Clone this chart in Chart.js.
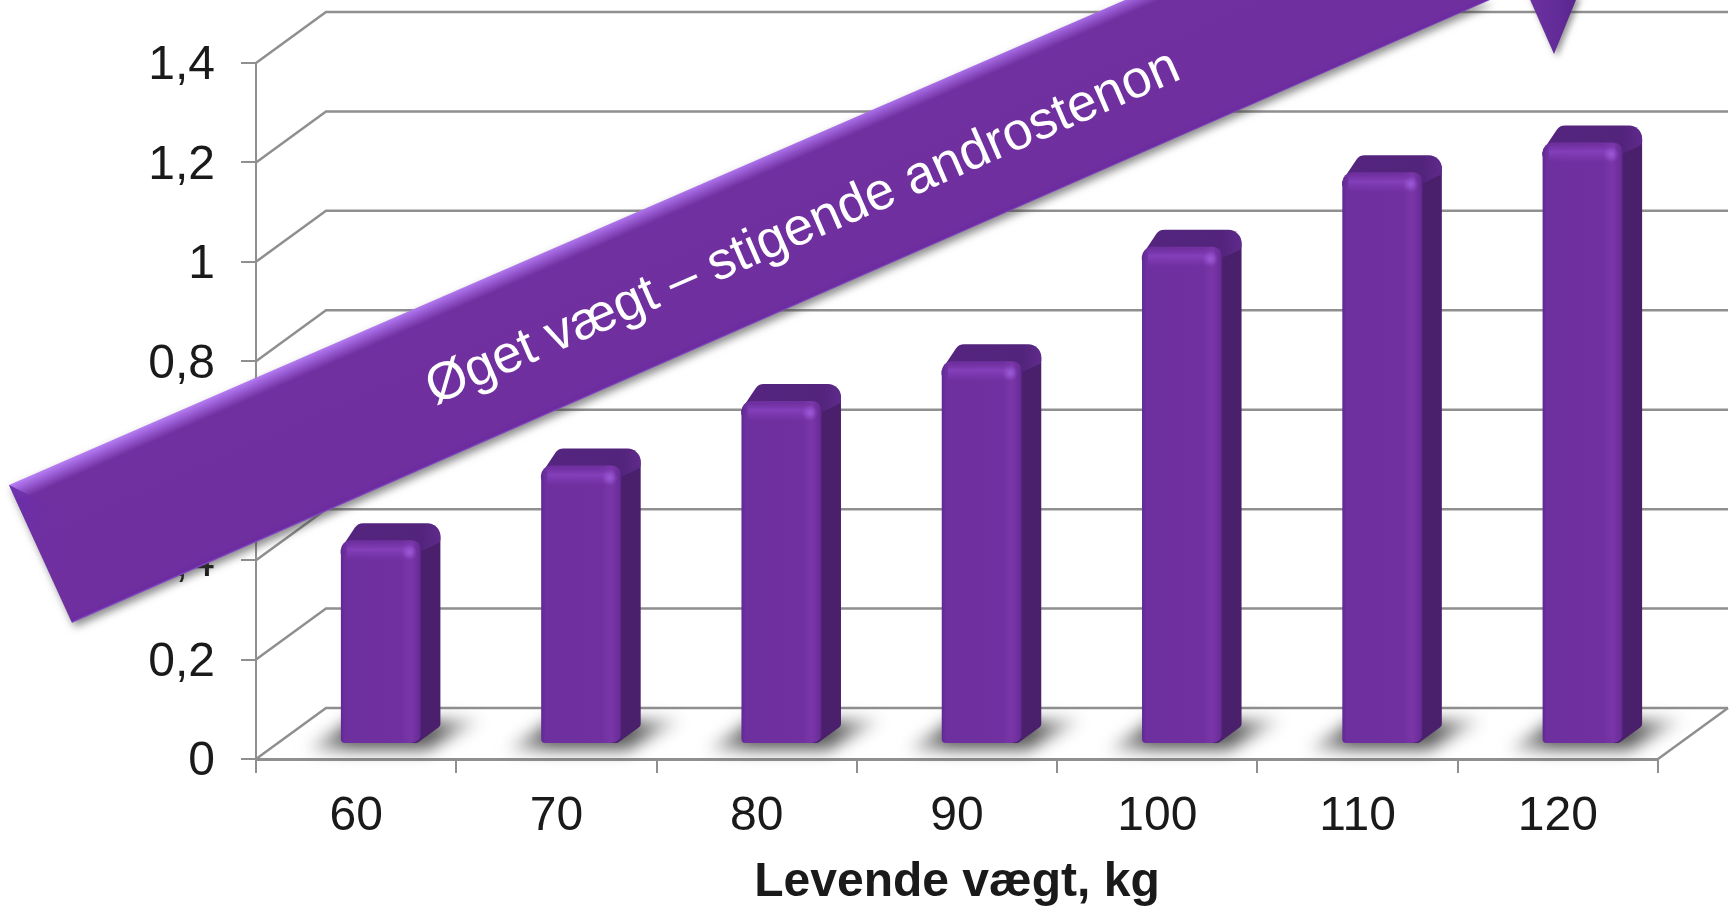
<!DOCTYPE html>
<html>
<head>
<meta charset="utf-8">
<script src="https://cdn.jsdelivr.net/npm/chart.js@4"></script>
<style>
  html, body { margin: 0; padding: 0; background: #fff; }
  canvas { display: block; }
</style>
</head>
<body>
<canvas id="chart" width="1730" height="907"></canvas>
<script>
const categories = ['60', '70', '80', '90', '100', '110', '120'];
const androstenon = [0.41, 0.56, 0.69, 0.77, 1.00, 1.15, 1.21];
const yTickValues = [0, 0.2, 0.4, 0.6, 0.8, 1, 1.2, 1.4];
const yTickLabels = ['0', '0,2', '0,4', '0,6', '0,8', '1', '1,2', '1,4'];
const xTitle = 'Levende vægt, kg';
const bannerText = 'Øget vægt – stigende androstenon';

const FONT = '"Liberation Sans", Arial, sans-serif';
const LINE = '#8f8f8f';
// the "3D" box: how far the back wall sits from the axes, and how far the bars sit in
const wall = { dx: 70, dy: -51 };
const barShift = { dx: 25, dy: -15 };
const barDepth = { dx: 19, dy: -17 };

function roundPoly(ctx, pts, radii) {
    ctx.beginPath();
    const n = pts.length;
    const start = { x: (pts[0].x + pts[n - 1].x) / 2, y: (pts[0].y + pts[n - 1].y) / 2 };
    ctx.moveTo(start.x, start.y);
    for (let i = 0; i < n; i++) {
        const p = pts[i], q = pts[(i + 1) % n];
        ctx.arcTo(p.x, p.y, i === n - 1 ? start.x : q.x, i === n - 1 ? start.y : q.y, radii[i]);
    }
    ctx.closePath();
}

const wallPlugin = {
    id: 'wall',
    beforeDatasetsDraw(chart) {
        const { ctx, chartArea: a, scales: { y } } = chart;
        ctx.save();
        ctx.strokeStyle = LINE;
        ctx.lineWidth = 2.5;
        for (const v of yTickValues) {
            const py = y.getPixelForValue(v);
            ctx.beginPath();
            ctx.moveTo(a.left, py);
            ctx.lineTo(a.left + wall.dx, py + wall.dy);
            ctx.lineTo(a.right + wall.dx, py + wall.dy);
            ctx.stroke();
        }
        // floor, right edge
        const y0 = y.getPixelForValue(0);
        ctx.beginPath();
        ctx.moveTo(a.right, y0);
        ctx.lineTo(a.right + wall.dx, y0 + wall.dy);
        ctx.stroke();
        ctx.restore();
    },
};

const bar3dPlugin = {
    id: 'bar3d',
    beforeDatasetsDraw(chart) {
        const { ctx } = chart;
        const bars = chart.getDatasetMeta(0).data;
        ctx.save();
        // floor shadows
        ctx.filter = 'blur(8px)';
        for (const b of bars) {
            const l = b.x - b.width / 2 + barShift.dx;
            const r = b.x + b.width / 2 + barShift.dx;
            const by = b.base + barShift.dy;
            const g = ctx.createLinearGradient(l - 36, 0, r + 62, 0);
            g.addColorStop(0, 'rgba(140,140,140,0.45)');
            g.addColorStop(0.25, 'rgba(85,85,85,0.95)');
            g.addColorStop(0.72, 'rgba(85,85,85,0.95)');
            g.addColorStop(1, 'rgba(160,160,160,0.4)');
            ctx.fillStyle = g;
            ctx.beginPath();
            ctx.moveTo(l - 34, by + 7);
            ctx.lineTo(r + 6, by + 7);
            ctx.lineTo(r + 60, by - 23);
            ctx.lineTo(l + 10, by - 23);
            ctx.closePath();
            ctx.fill();
        }
        ctx.filter = 'none';
        // side and top faces
        for (const b of bars) {
            const l = b.x - b.width / 2 + barShift.dx;
            const r = b.x + b.width / 2 + barShift.dx;
            const t = b.y + barShift.dy;
            const by = b.base + barShift.dy;
            ctx.fillStyle = '#4a1f6c';
            roundPoly(ctx, [
                { x: r - 12, y: t + 4 },
                { x: r - 8 + barDepth.dx, y: t + barDepth.dy + 2 },
                { x: r + barDepth.dx, y: t + barDepth.dy + 2 },
                { x: r + barDepth.dx, y: by + barDepth.dy },
                { x: r - 4, y: by },
                { x: r - 12, y: by },
            ], [0, 12, 12, 4, 6, 0]);
            ctx.fill();
            const gTop = ctx.createLinearGradient(l, 0, r + barDepth.dx, 0);
            gTop.addColorStop(0, '#55257f');
            gTop.addColorStop(0.8, '#52247b');
            gTop.addColorStop(1, '#5f2a8c');
            ctx.fillStyle = gTop;
            roundPoly(ctx, [
                { x: l - 1, y: t + 10 },
                { x: l + barDepth.dx - 2, y: t + barDepth.dy },
                { x: r + barDepth.dx, y: t + barDepth.dy },
                { x: r + barDepth.dx, y: t + 2 },
                { x: r - 6, y: t + 14 },
                { x: l, y: t + 14 },
            ], [8, 10, 13, 4, 0, 0]);
            ctx.fill();
        }
        ctx.restore();
        // the library's own bars are the front faces, pushed back onto the floor
        ctx.save();
        ctx.translate(barShift.dx, barShift.dy);
    },
    afterDatasetsDraw(chart) {
        const { ctx } = chart;
        ctx.restore();
        const bars = chart.getDatasetMeta(0).data;
        ctx.save();
        for (const b of bars) {
            const l = b.x - b.width / 2 + barShift.dx;
            const r = b.x + b.width / 2 + barShift.dx;
            const t = b.y + barShift.dy;
            // soft highlight along the top edge and on the corner
            const g = ctx.createLinearGradient(0, t + 2, 0, t + 20);
            g.addColorStop(0, 'rgba(130,62,185,0)');
            g.addColorStop(0.4, 'rgba(135,66,190,0.85)');
            g.addColorStop(1, 'rgba(130,62,185,0)');
            ctx.fillStyle = g;
            ctx.fillRect(l + 6, t + 2, r - l - 14, 18);
            const d = ctx.createRadialGradient(r - 12, t + 12, 0, r - 12, t + 12, 8);
            d.addColorStop(0, 'rgba(155,90,215,1)');
            d.addColorStop(1, 'rgba(150,85,210,0)');
            ctx.fillStyle = d;
            ctx.fillRect(r - 22, t + 2, 20, 20);
        }
        ctx.restore();
    },
};

const bannerPlugin = {
    id: 'banner',
    afterDraw(chart) {
        const { ctx } = chart;
        const A = { x: 9, y: 485 }, B = { x: 72, y: 623 };
        const C = { x: 1490, y: 0 }, D = { x: 1125, y: 0 };
        ctx.save();

        // arrow head coming down from the top edge
        ctx.save();
        ctx.shadowColor = 'rgba(60,60,60,0.55)';
        ctx.shadowBlur = 6;
        ctx.shadowOffsetX = 3;
        ctx.shadowOffsetY = 3;
        const ga = ctx.createLinearGradient(1528, 0, 1582, 0);
        ga.addColorStop(0, '#6d33a0');
        ga.addColorStop(0.55, '#632b98');
        ga.addColorStop(1, '#55248a');
        ctx.fillStyle = ga;
        ctx.beginPath();
        ctx.moveTo(1528, -5);
        ctx.lineTo(1554, 54);
        ctx.lineTo(1578, -5);
        ctx.closePath();
        ctx.fill();
        ctx.restore();

        // band; the shading runs square to its long edges
        ctx.save();
        ctx.shadowColor = 'rgba(60,60,60,0.6)';
        ctx.shadowBlur = 8;
        ctx.shadowOffsetX = 3;
        ctx.shadowOffsetY = 4;
        const gb = ctx.createLinearGradient(A.x, A.y, A.x + 61, A.y + 139);
        gb.addColorStop(0, '#b880f4');
        gb.addColorStop(0.04, '#a064dc');
        gb.addColorStop(0.12, '#7030a0');
        gb.addColorStop(0.95, '#6f2f9f');
        gb.addColorStop(0.985, '#6c2ca0');
        gb.addColorStop(1, '#8c55d0');
        ctx.fillStyle = gb;
        ctx.beginPath();
        ctx.moveTo(A.x, A.y);
        ctx.lineTo(D.x, D.y);
        ctx.lineTo(C.x, C.y);
        ctx.lineTo(B.x, B.y);
        ctx.closePath();
        ctx.fill();
        ctx.restore();

        // bevel on the left end
        const gl = ctx.createLinearGradient(A.x, A.y, A.x + 70, A.y + 20);
        gl.addColorStop(0, '#6a2eac');
        gl.addColorStop(1, 'rgba(112,48,160,0)');
        ctx.fillStyle = gl;
        ctx.beginPath();
        ctx.moveTo(A.x, A.y);
        ctx.lineTo(A.x + 48, A.y + 24);
        ctx.lineTo(B.x + 20, B.y - 28);
        ctx.lineTo(B.x, B.y);
        ctx.closePath();
        ctx.fill();

        // text along the band
        ctx.translate(435, 405);
        ctx.rotate(-23.6 * Math.PI / 180);
        ctx.fillStyle = '#fff';
        ctx.font = '53px ' + FONT;
        ctx.textBaseline = 'alphabetic';
        ctx.fillText(bannerText, 0, 0);
        ctx.restore();
    },
};

new Chart(document.getElementById('chart'), {
    type: 'bar',
    data: {
        labels: categories,
        datasets: [{
            data: androstenon,
            clip: false,
            barPercentage: 0.402,
            categoryPercentage: 1,
            borderSkipped: false,
            borderRadius: { topLeft: 10, topRight: 10, bottomLeft: 4, bottomRight: 10 },
            backgroundColor(c) {
                if (c.dataIndex === undefined || !c.chart.chartArea) return '#7030a0';
                const x = c.chart.scales.x.getPixelForValue(c.dataIndex);
                const w = c.chart.chartArea.width / categories.length * 0.402;
                const g = c.chart.ctx.createLinearGradient(x - w / 2, 0, x + w / 2, 0);
                g.addColorStop(0, '#5f2892');
                g.addColorStop(0.05, '#6e2f9f');
                g.addColorStop(0.75, '#7030a0');
                g.addColorStop(0.87, '#7a36a8');
                g.addColorStop(0.97, '#6a2d99');
                g.addColorStop(1, '#4f2277');
                return g;
            },
        }],
    },
    options: {
        responsive: false,
        animation: false,
        layout: { padding: { top: 63, right: 72, left: 0, bottom: 0 } },
        plugins: { legend: { display: false }, tooltip: { enabled: false } },
        scales: {
            x: {
                afterFit(s) { s.height = 148; },
                grid: { offset: true, drawOnChartArea: false, color: LINE, lineWidth: 2, tickLength: 14 },
                border: { color: LINE, width: 3 },
                ticks: { color: '#1a1a1a', font: { family: FONT, size: 48 }, padding: 15, maxRotation: 0 },
                title: {
                    display: true,
                    text: xTitle,
                    color: '#1a1a1a',
                    font: { family: FONT, size: 48, weight: 'bold' },
                    padding: { top: 0, bottom: -5 },
                },
            },
            y: {
                min: 0,
                max: 1.4,
                afterFit(s) { s.width = 256; },
                afterBuildTicks(s) { s.ticks = yTickValues.map(v => ({ value: v })); },
                grid: { drawOnChartArea: false, color: LINE, lineWidth: 2, tickLength: 15 },
                border: { color: LINE, width: 2 },
                ticks: {
                    color: '#1a1a1a',
                    font: { family: FONT, size: 48 },
                    padding: 26,
                    labelOffset: 3,
                    callback(v) { return yTickLabels[yTickValues.indexOf(v)]; },
                },
            },
        },
    },
    plugins: [wallPlugin, bar3dPlugin, bannerPlugin],
});
</script>
</body>
</html>
